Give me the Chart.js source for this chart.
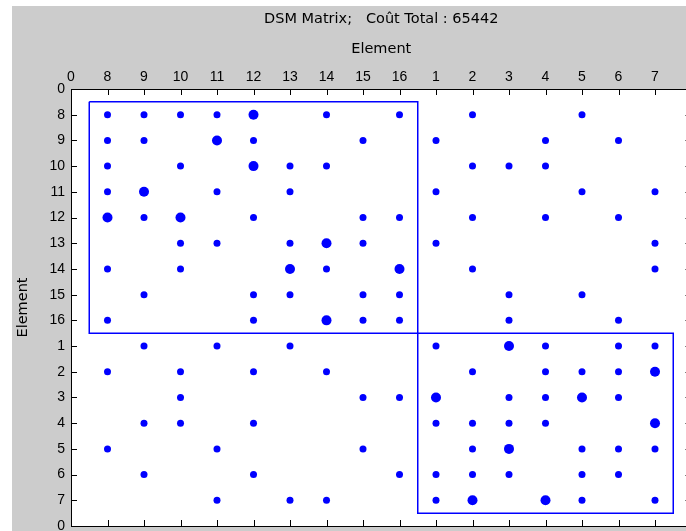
<!DOCTYPE html>
<html>
<head>
<meta charset="utf-8">
<script src="https://cdn.jsdelivr.net/npm/chart.js@4.4.1/dist/chart.umd.min.js"></script>
<style>
  html, body { margin: 0; padding: 0; background: #fff; overflow: hidden; }
  #wrap { position: absolute; left: 12px; top: 6px; width: 688px; height: 525px; background: #cccccc; }
</style>
</head>
<body>
<div id="wrap"><canvas id="dsm" width="688" height="525"></canvas></div>
<script>
// ordre des éléments (lignes et colonnes)
const elements = ['8', '9', '10', '11', '12', '13', '14', '15', '16', '1', '2', '3', '4', '5', '6', '7'];
// libellés des graduations 0..17
const tickLabels = ['0', '8', '9', '10', '11', '12', '13', '14', '15', '16', '1', '2', '3', '4', '5', '6', '7', '0'];

// liaisons par ligne (même ordre que elements)
const weakCols = [
  ['8', '9', '10', '11', '14', '16', '2', '5'],
  ['8', '9', '12', '15', '1', '4', '6'],
  ['8', '10', '13', '14', '2', '3', '4'],
  ['8', '11', '13', '1', '5', '7'],
  ['9', '12', '15', '16', '2', '4', '6'],
  ['10', '11', '13', '15', '1', '7'],
  ['8', '10', '14', '2', '7'],
  ['9', '12', '13', '15', '16', '3', '5'],
  ['8', '12', '15', '16', '3', '6'],
  ['9', '11', '13', '1', '4', '6', '7'],
  ['8', '10', '12', '14', '2', '4', '5', '6'],
  ['10', '15', '16', '3', '4', '6'],
  ['9', '10', '12', '1', '2', '3', '4'],
  ['8', '11', '15', '2', '5', '6', '7'],
  ['9', '12', '16', '1', '2', '3', '5', '6'],
  ['11', '13', '14', '1', '5', '7'],
];
const strongCols = [
  ['12'], ['11'], ['12'], ['9'], ['8', '10'], ['14'], ['13', '16'], [],
  ['14'], ['3'], ['7'], ['1', '5'], ['7'], ['3'], [], ['2', '4'],
];

// clusters
const clusters = [
  ['8', '9', '10', '11', '12', '13', '14', '15', '16'],
  ['1', '2', '3', '4', '5', '6', '7'],
];

const BLUE = '#0000ff';

function toPoints(rows) {
  const pts = [];
  rows.forEach((cols, r) => {
    cols.forEach(c => pts.push({ x: elements.indexOf(c) + 1, y: r + 1 }));
  });
  return pts;
}

function clusterBox(members) {
  const idx = members.map(m => elements.indexOf(m) + 1);
  const a = Math.min(...idx) - 0.5, b = Math.max(...idx) + 0.5;
  return [{ x: a, y: a }, { x: b, y: a }, { x: b, y: b }, { x: a, y: b }, { x: a, y: a }];
}

// cadre + graduations vers l'intérieur (style Matlab)
const boxTicks = {
  id: 'boxTicks',
  afterDatasetsDraw(chart) {
    const { ctx, chartArea: a, scales: { x, y } } = chart;
    const len = 6;
    ctx.save();
    ctx.strokeStyle = '#000';
    ctx.lineWidth = 1;
    ctx.beginPath();
    for (let i = 0; i < tickLabels.length; i++) {
      const px = Math.round(x.getPixelForValue(i)) + 0.5;
      ctx.moveTo(px, a.top); ctx.lineTo(px, a.top + len);
      ctx.moveTo(px, a.bottom); ctx.lineTo(px, a.bottom - len);
      const py = Math.round(y.getPixelForValue(i)) + 0.5;
      ctx.moveTo(a.left, py); ctx.lineTo(a.left + len, py);
      ctx.moveTo(a.right, py); ctx.lineTo(a.right - len, py);
    }
    ctx.stroke();
    ctx.strokeRect(Math.round(a.left) + 0.5, Math.round(a.top) + 0.5,
      Math.round(a.right - a.left), Math.round(a.bottom - a.top));
    ctx.restore();
  },
  beforeDraw(chart) {
    const { ctx, chartArea: a } = chart;
    ctx.save();
    ctx.fillStyle = '#fff';
    ctx.fillRect(a.left, a.top, a.right - a.left, a.bottom - a.top);
    ctx.restore();
  }
};

const tickFont = { family: 'Liberation Sans, Arial, sans-serif', size: 14 };
const titleFont = { family: 'DejaVu Sans, sans-serif', size: 14.5 };

new Chart(document.getElementById('dsm'), {
  type: 'scatter',
  data: {
    datasets: [
      { data: toPoints(weakCols), backgroundColor: BLUE, borderWidth: 0, pointRadius: 3.5 },
      { data: toPoints(strongCols), backgroundColor: BLUE, borderWidth: 0, pointRadius: 5 },
      ...clusters.map(m => ({
        data: clusterBox(m), showLine: true, borderColor: BLUE, borderWidth: 1.5,
        pointRadius: 0, fill: false,
      })),
    ],
  },
  options: {
    responsive: false,
    animation: false,
    layout: { padding: { left: 0, top: 0, right: 8.5, bottom: 2 } },
    scales: {
      x: {
        type: 'linear', position: 'top', min: 0, max: 17, weight: 0,
        grid: { display: false, drawTicks: false }, border: { display: false },
        ticks: {
          stepSize: 1, autoSkip: false, maxRotation: 0, padding: 3.5,
          color: '#000', font: tickFont, callback: v => tickLabels[v] ?? '',
        },
        title: { display: true, text: 'Element', color: '#000', font: titleFont, padding: { top: 4.8, bottom: 0 } },
        afterFit(s) { s.height = 53; s.paddingLeft = 0; s.paddingRight = 0; },
      },
      x2: {
        type: 'linear', position: 'top', min: 0, max: 17, weight: 1,
        grid: { display: false, drawTicks: false }, border: { display: false },
        ticks: { display: false },
        title: { display: true, text: 'DSM Matrix;   Coût Total : 65442', color: '#000', font: titleFont, padding: { top: 4.3, bottom: 0 } },
        afterFit(s) { s.height = 30; s.paddingLeft = 0; s.paddingRight = 0; },
      },
      y: {
        type: 'linear', reverse: true, min: 0, max: 17,
        grid: { display: false, drawTicks: false }, border: { display: false },
        ticks: {
          stepSize: 1, autoSkip: false, padding: 6,
          color: '#000', font: tickFont, callback: v => tickLabels[v] ?? '',
        },
        title: { display: true, text: 'Element', color: '#000', font: titleFont, padding: { top: 2.3, bottom: 0 } },
        afterFit(s) { s.width = 59; s.paddingTop = 0; s.paddingBottom = 0; },
      },
    },
    plugins: {
      legend: { display: false },
      tooltip: { enabled: false },
      title: { display: false },
    },
  },
  plugins: [boxTicks],
});
</script>
</body>
</html>
